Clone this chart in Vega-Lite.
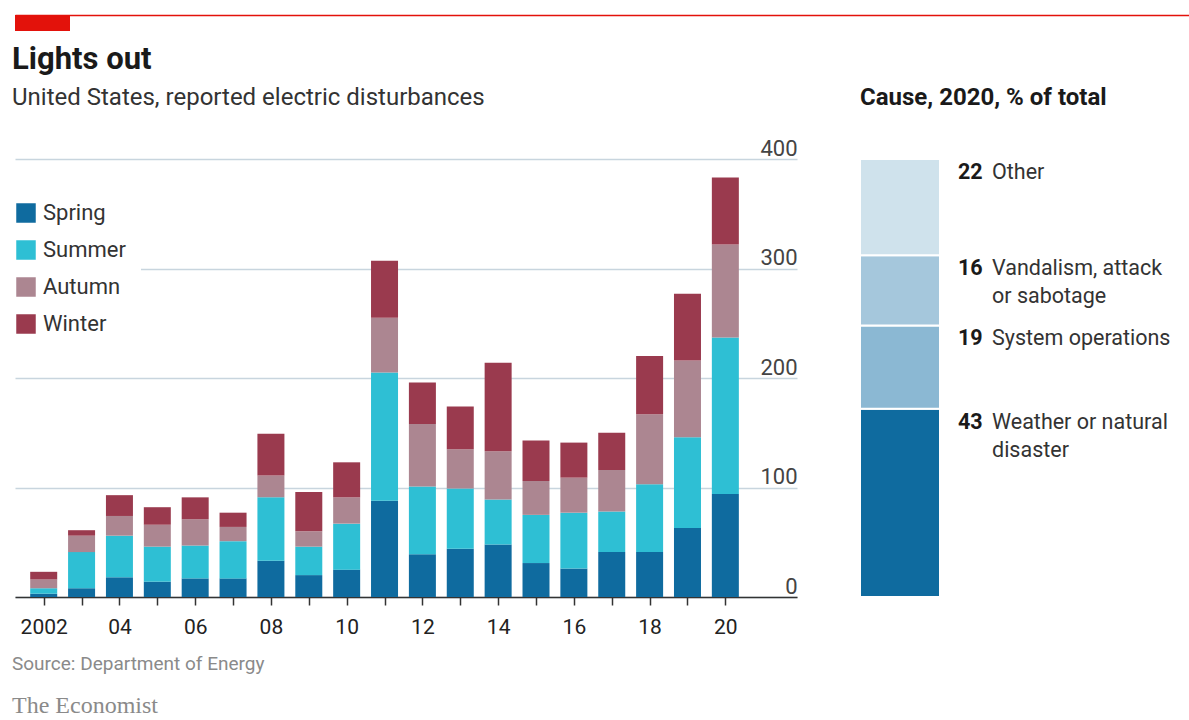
{
  "$schema": "https://vega.github.io/schema/vega-lite/v6.json",
  "background": "white",
  "padding": {"left": 0, "top": 15, "right": 0, "bottom": 0},
  "config": {"font": "Roboto", "view": {"stroke": null}},
  "title": {
    "text": "Source: Department of Energy",
    "subtitle": "The Economist",
    "orient": "bottom",
    "anchor": "start",
    "frame": "bounds",
    "dx": 12,
    "offset": 18,
    "font": "Roboto",
    "fontSize": 19,
    "fontWeight": "normal",
    "color": "#8a8a8a",
    "subtitleFont": "Liberation Serif",
    "subtitleFontSize": 24,
    "subtitleColor": "#8a8a8a",
    "subtitlePadding": 20
  },
  "bounds": "flush",
  "spacing": 128,
  "vconcat": [
    {
      "width": 1174,
      "height": 16,
      "data": {"values": []},
      "mark": "point",
      "encoding": {
        "x": {
          "field": "v",
          "type": "quantitative",
          "scale": {"domain": [0, 1]},
          "axis": {"orient": "top", "domainColor": "#e3120b", "domainWidth": 1.5, "ticks": false, "labels": false, "grid": false, "title": null}
        }
      },
      "view": {
        "stroke": null,
        "fill": {
          "gradient": "linear",
          "x1": 0, "y1": 0, "x2": 1, "y2": 0,
          "stops": [
            {"offset": 0, "color": "#e3120b"},
            {"offset": 0.0468, "color": "#e3120b"},
            {"offset": 0.0469, "color": "#ffffff"},
            {"offset": 1, "color": "#ffffff"}
          ]
        }
      }
    },
    {
      "bounds": "flush",
      "spacing": 63,
      "resolve": {"scale": {"color": "independent", "x": "independent", "y": "independent"}, "legend": {"color": "independent"}},
      "hconcat": [
        {
          "width": 782,
          "height": 438,
          "title": {
            "text": "Lights out",
            "subtitle": "United States, reported electric disturbances",
            "anchor": "start",
            "frame": "group",
            "dx": -3,
            "offset": 26,
            "font": "Roboto",
            "fontSize": 31,
            "fontWeight": "bold",
            "color": "#1a1a1a",
            "subtitleFont": "Roboto",
            "subtitleFontSize": 24,
            "subtitleColor": "#333333",
            "subtitlePadding": 10
          },
          "data": {
            "values": [
              {"year": 2002, "season": "Spring", "n": 3}, {"year": 2002, "season": "Summer", "n": 5}, {"year": 2002, "season": "Autumn", "n": 8}, {"year": 2002, "season": "Winter", "n": 7},
              {"year": 2003, "season": "Spring", "n": 8}, {"year": 2003, "season": "Summer", "n": 33}, {"year": 2003, "season": "Autumn", "n": 15}, {"year": 2003, "season": "Winter", "n": 5},
              {"year": 2004, "season": "Spring", "n": 18}, {"year": 2004, "season": "Summer", "n": 38}, {"year": 2004, "season": "Autumn", "n": 18}, {"year": 2004, "season": "Winter", "n": 19},
              {"year": 2005, "season": "Spring", "n": 14}, {"year": 2005, "season": "Summer", "n": 32}, {"year": 2005, "season": "Autumn", "n": 20}, {"year": 2005, "season": "Winter", "n": 16},
              {"year": 2006, "season": "Spring", "n": 17}, {"year": 2006, "season": "Summer", "n": 30}, {"year": 2006, "season": "Autumn", "n": 24}, {"year": 2006, "season": "Winter", "n": 20},
              {"year": 2007, "season": "Spring", "n": 17}, {"year": 2007, "season": "Summer", "n": 34}, {"year": 2007, "season": "Autumn", "n": 13}, {"year": 2007, "season": "Winter", "n": 13},
              {"year": 2008, "season": "Spring", "n": 33}, {"year": 2008, "season": "Summer", "n": 58}, {"year": 2008, "season": "Autumn", "n": 20}, {"year": 2008, "season": "Winter", "n": 38},
              {"year": 2009, "season": "Spring", "n": 20}, {"year": 2009, "season": "Summer", "n": 26}, {"year": 2009, "season": "Autumn", "n": 14}, {"year": 2009, "season": "Winter", "n": 36},
              {"year": 2010, "season": "Spring", "n": 25}, {"year": 2010, "season": "Summer", "n": 42}, {"year": 2010, "season": "Autumn", "n": 24}, {"year": 2010, "season": "Winter", "n": 32},
              {"year": 2011, "season": "Spring", "n": 88}, {"year": 2011, "season": "Summer", "n": 117}, {"year": 2011, "season": "Autumn", "n": 50}, {"year": 2011, "season": "Winter", "n": 52},
              {"year": 2012, "season": "Spring", "n": 39}, {"year": 2012, "season": "Summer", "n": 62}, {"year": 2012, "season": "Autumn", "n": 57}, {"year": 2012, "season": "Winter", "n": 38},
              {"year": 2013, "season": "Spring", "n": 44}, {"year": 2013, "season": "Summer", "n": 55}, {"year": 2013, "season": "Autumn", "n": 36}, {"year": 2013, "season": "Winter", "n": 39},
              {"year": 2014, "season": "Spring", "n": 48}, {"year": 2014, "season": "Summer", "n": 41}, {"year": 2014, "season": "Autumn", "n": 44}, {"year": 2014, "season": "Winter", "n": 81},
              {"year": 2015, "season": "Spring", "n": 31}, {"year": 2015, "season": "Summer", "n": 44}, {"year": 2015, "season": "Autumn", "n": 31}, {"year": 2015, "season": "Winter", "n": 37},
              {"year": 2016, "season": "Spring", "n": 26}, {"year": 2016, "season": "Summer", "n": 51}, {"year": 2016, "season": "Autumn", "n": 32}, {"year": 2016, "season": "Winter", "n": 32},
              {"year": 2017, "season": "Spring", "n": 41}, {"year": 2017, "season": "Summer", "n": 37}, {"year": 2017, "season": "Autumn", "n": 38}, {"year": 2017, "season": "Winter", "n": 34},
              {"year": 2018, "season": "Spring", "n": 41}, {"year": 2018, "season": "Summer", "n": 62}, {"year": 2018, "season": "Autumn", "n": 64}, {"year": 2018, "season": "Winter", "n": 53},
              {"year": 2019, "season": "Spring", "n": 63}, {"year": 2019, "season": "Summer", "n": 83}, {"year": 2019, "season": "Autumn", "n": 70}, {"year": 2019, "season": "Winter", "n": 61},
              {"year": 2020, "season": "Spring", "n": 94}, {"year": 2020, "season": "Summer", "n": 143}, {"year": 2020, "season": "Autumn", "n": 85}, {"year": 2020, "season": "Winter", "n": 61}
            ]
          },
          "transform": [
            {
              "lookup": "season",
              "from": {
                "data": {"values": [{"season": "Spring", "k": 1}, {"season": "Summer", "k": 2}, {"season": "Autumn", "k": 3}, {"season": "Winter", "k": 4}]},
                "key": "season",
                "fields": ["k"]
              }
            }
          ],
          "mark": {"type": "bar", "size": 27},
          "encoding": {
            "x": {
              "field": "year",
              "type": "quantitative",
              "scale": {"domain": [2001.374, 2021.76], "nice": false, "zero": false},
              "axis": {
                "title": null,
                "values": [2002, 2003, 2004, 2005, 2006, 2007, 2008, 2009, 2010, 2011, 2012, 2013, 2014, 2015, 2016, 2017, 2018, 2019, 2020],
                "labelExpr": "datum.value % 2 != 0 ? '' : (datum.value == 2002 ? '2002' : substring(toString(datum.value), 2))",
                "grid": false,
                "domainColor": "#333333",
                "domainWidth": 1.5,
                "ticks": true,
                "tickColor": "#333333",
                "tickWidth": 1.5,
                "tickSize": 8,
                "labelFontSize": 21,
                "labelColor": "#222222",
                "labelPadding": 11,
                "labelFlush": false,
                "labelOverlap": false,
                "labelBound": false
              }
            },
            "y": {
              "field": "n",
              "type": "quantitative",
              "stack": "zero",
              "scale": {"domain": [0, 400], "nice": false},
              "axis": {
                "title": null,
                "orient": "right",
                "values": [0, 100, 200, 300, 400],
                "grid": true,
                "gridColor": "#c8d5de",
                "gridWidth": 1.5,
                "domain": false,
                "ticks": false,
                "labelAlign": "right",
                "labelBaseline": "alphabetic",
                "labelOffset": -4,
                "labelPadding": 0,
                "labelFontSize": 22,
                "labelColor": "#444444"
              }
            },
            "order": {"field": "k", "type": "quantitative"},
            "color": {
              "field": "season",
              "type": "nominal",
              "scale": {
                "domain": ["Spring", "Summer", "Autumn", "Winter"],
                "range": ["#0f6b9f", "#2ebfd4", "#ac8691", "#9a3a4e"]
              },
              "legend": {
                "orient": "none",
                "legendX": -15,
                "legendY": 28,
                "title": null,
                "symbolType": "square",
                "symbolSize": 380,
                "symbolStrokeWidth": 0,
                "labelFontSize": 22,
                "labelColor": "#333333",
                "labelOffset": 6,
                "rowPadding": 15,
                "padding": 15,
                "fillColor": "white"
              }
            }
          }
        },
        {
          "width": 80,
          "height": 438,
          "title": {
            "text": "Cause, 2020, % of total",
            "anchor": "start",
            "frame": "group",
            "offset": 48,
            "font": "Roboto",
            "fontSize": 24,
            "fontWeight": "bold",
            "color": "#1a1a1a"
          },
          "data": {
            "values": [
              {"cause": "Weather or natural disaster", "num": "43", "pct": 43, "label": ["Weather or natural", "disaster"], "rank": 1},
              {"cause": "System operations", "num": "19", "pct": 19, "label": ["System operations"], "rank": 2},
              {"cause": "Vandalism, attack or sabotage", "num": "16", "pct": 16, "label": ["Vandalism, attack", "or sabotage"], "rank": 3},
              {"cause": "Other", "num": "22", "pct": 22, "label": ["Other"], "rank": 4}
            ]
          },
          "layer": [
            {
              "mark": {"type": "bar", "stroke": "white", "strokeWidth": 2},
              "encoding": {
                "x": {"datum": "2020", "type": "nominal", "axis": null, "scale": {"paddingInner": 0, "paddingOuter": 0}},
                "y": {"field": "pct", "type": "quantitative", "stack": "zero", "scale": {"domain": [0, 100], "nice": false}, "axis": null},
                "order": {"field": "rank", "type": "quantitative"},
                "color": {
                  "field": "cause",
                  "type": "nominal",
                  "scale": {
                    "domain": ["Weather or natural disaster", "System operations", "Vandalism, attack or sabotage", "Other"],
                    "range": ["#0f6b9f", "#8bb8d3", "#a5c7dc", "#cfe2ec"]
                  },
                  "legend": null
                }
              }
            },
            {
              "mark": {"type": "text", "align": "left", "baseline": "top", "dx": 58, "dy": 3, "fontSize": 21.5, "fontWeight": "bold", "color": "#1a1a1a"},
              "encoding": {
                "y": {"field": "pct", "type": "quantitative", "stack": "zero"},
                "order": {"field": "rank", "type": "quantitative"},
                "detail": {"field": "cause", "type": "nominal"},
                "text": {"field": "num", "type": "nominal"}
              }
            },
            {
              "mark": {"type": "text", "align": "left", "baseline": "top", "dx": 92, "dy": 3, "fontSize": 21.5, "lineHeight": 28, "color": "#333333"},
              "encoding": {
                "y": {"field": "pct", "type": "quantitative", "stack": "zero"},
                "order": {"field": "rank", "type": "quantitative"},
                "detail": {"field": "cause", "type": "nominal"},
                "text": {"field": "label", "type": "nominal"}
              }
            }
          ]
        }
      ]
    }
  ]
}
